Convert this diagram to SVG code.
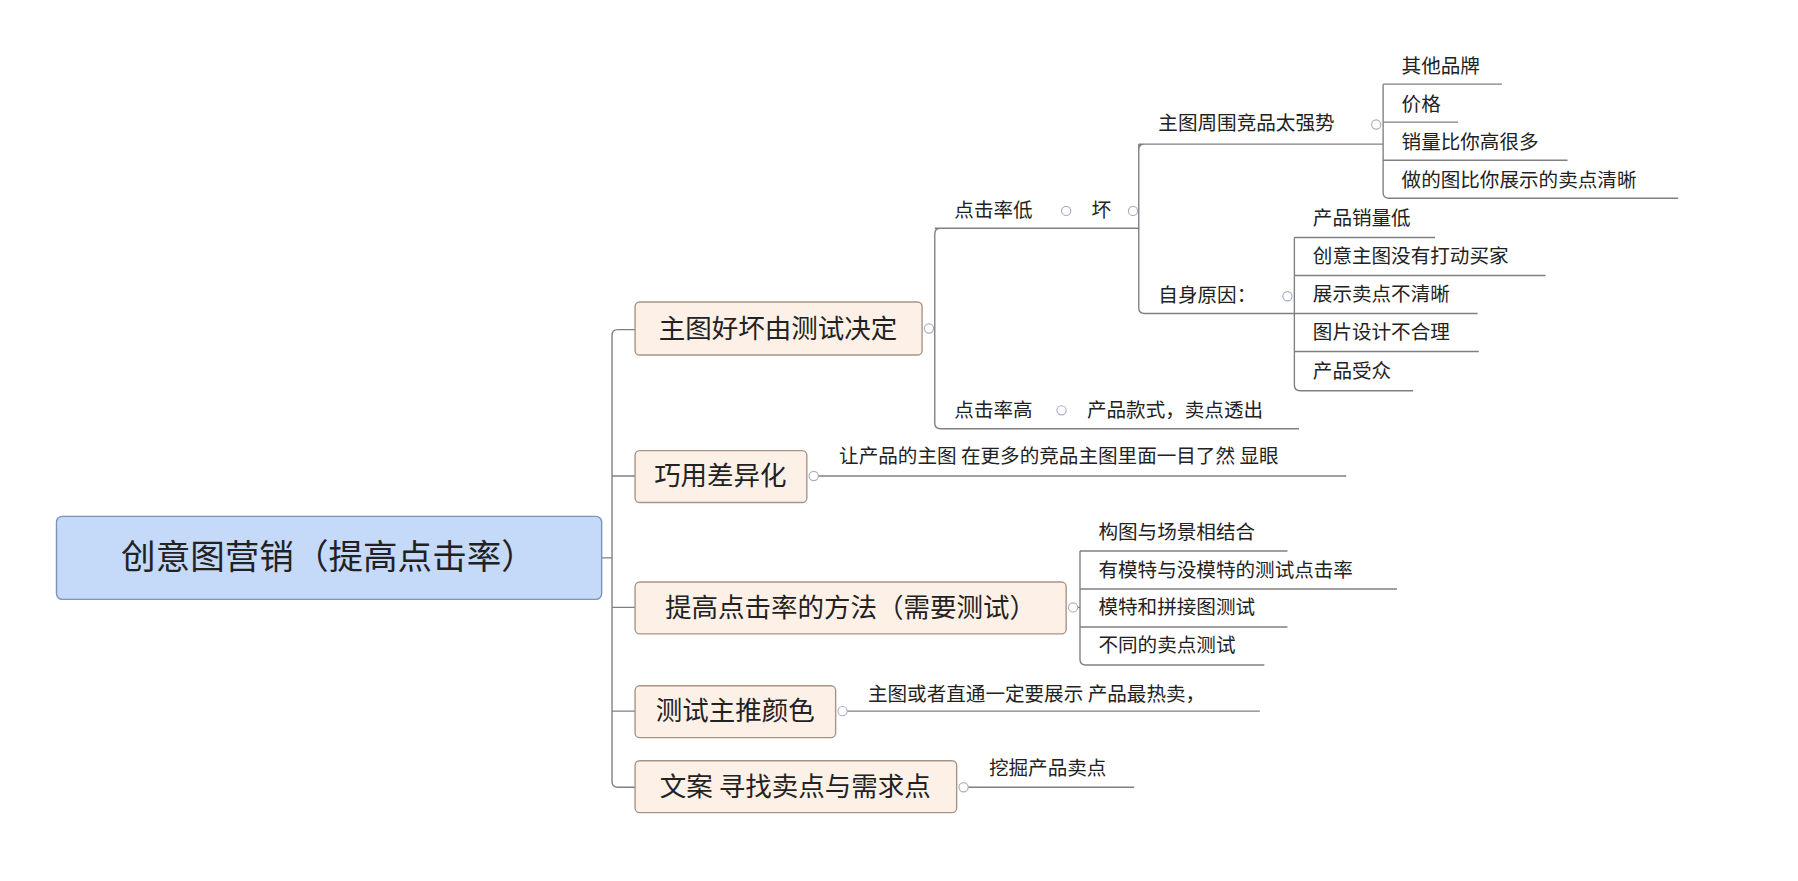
<svg xmlns="http://www.w3.org/2000/svg" width="1798" height="881" viewBox="0 0 1798 881">
<style>
.t{font-family:"Noto Sans CJK SC","Liberation Sans",sans-serif;fill:#222}
.s{font-size:17px}
.b{font-size:23px}
.ln{fill:none;stroke:#808080;stroke-width:1.2}
.bx{fill:#fdf1e7;stroke:#a89484;stroke-width:1.2}
.c{fill:#fff;stroke:#a8aec8;stroke-width:1}
</style>
<rect width="1798" height="881" fill="#fff"/>
<g transform="scale(1.1526)">
<g id="connectors">
<path class="ln" d="M522,484H531M551,286H536Q531,286 531,291V678Q531,683 536,683H551M531,413H551M531,527H551M531,617H551"/>
<path class="ln" d="M810,285H811M828,198H816Q811,198 811,203V367Q811,372 816,372H1127M811,198H988"/>
<path class="ln" d="M988,125V267Q988,272 993,272H1123M988,125H1200M988,130Q988,125 993,125"/>
<path class="ln" d="M1200,73V167Q1200,172 1205,172H1456M1200,73H1303M1200,106H1265M1200,139H1360"/>
<path class="ln" d="M1123,206V334Q1123,339 1128,339H1226M1123,206H1245M1123,239H1341M1123,272H1282M1123,305H1283"/>
<path class="ln" d="M706,413H1168"/>
<path class="ln" d="M931,527H937M937,478V572Q937,577 942,577H1097M937,478H1117M937,511H1212M937,544H1117"/>
<path class="ln" d="M731,617H1093M836,683H984"/>
</g>
<g id="root"><rect x="49" y="448" width="473" height="72" rx="5" fill="#c5d9f9" stroke="#7f93b5" stroke-width="1.2"/><text class="t" x="285" y="494" font-size="30" text-anchor="middle">创意图营销（提高点击率）</text></g>
<g id="n1"><rect class="bx" x="551" y="262" width="249" height="46" rx="4"/><text class="t b" x="675" y="293" text-anchor="middle">主图好坏由测试决定</text><circle class="c" cx="806" cy="285" r="4"/></g>
<g id="n2"><rect class="bx" x="551" y="391" width="149" height="45" rx="4"/><text class="t b" x="625" y="421" text-anchor="middle">巧用差异化</text><circle class="c" cx="706" cy="413" r="4"/></g>
<g id="n3"><rect class="bx" x="551" y="505" width="374" height="45" rx="4"/><text class="t b" x="738" y="535" text-anchor="middle">提高点击率的方法（需要测试）</text><circle class="c" cx="931" cy="527" r="4"/></g>
<g id="n4"><rect class="bx" x="551" y="595" width="174" height="45" rx="4"/><text class="t b" x="638" y="625" text-anchor="middle">测试主推颜色</text><circle class="c" cx="731" cy="617" r="4"/></g>
<g id="n5"><rect class="bx" x="551" y="660" width="279" height="45" rx="4"/><text class="t b" x="690" y="691" text-anchor="middle">文案 寻找卖点与需求点</text><circle class="c" cx="836" cy="683" r="4"/></g>
<g id="s1"><text class="t s" x="828" y="188">点击率低</text><circle class="c" cx="925" cy="183" r="4"/></g>
<g id="s2"><text class="t s" x="947" y="188">坏</text><circle class="c" cx="983" cy="183" r="4"/></g>
<g id="s3"><text class="t s" x="1005" y="113">主图周围竞品太强势</text><circle class="c" cx="1194" cy="108" r="4"/></g>
<g id="s4"><text class="t s" x="1216" y="63">其他品牌</text></g>
<g id="s5"><text class="t s" x="1216" y="96">价格</text></g>
<g id="s6"><text class="t s" x="1216" y="129">销量比你高很多</text></g>
<g id="s7"><text class="t s" x="1216" y="162">做的图比你展示的卖点清晰</text></g>
<g id="s8"><text class="t s" x="1005" y="262">自身原因：</text><circle class="c" cx="1117" cy="257" r="4"/></g>
<g id="s9"><text class="t s" x="1139" y="195">产品销量低</text></g>
<g id="s10"><text class="t s" x="1139" y="228">创意主图没有打动买家</text></g>
<g id="s11"><text class="t s" x="1139" y="261">展示卖点不清晰</text></g>
<g id="s12"><text class="t s" x="1139" y="294">图片设计不合理</text></g>
<g id="s13"><text class="t s" x="1139" y="328">产品受众</text></g>
<g id="s14"><text class="t s" x="828" y="362">点击率高</text><circle class="c" cx="921" cy="356" r="4"/></g>
<g id="s15"><text class="t s" x="943" y="362">产品款式，卖点透出</text></g>
<g id="s16"><text class="t s" x="728" y="402">让产品的主图 在更多的竞品主图里面一目了然 显眼</text></g>
<g id="s17"><text class="t s" x="953" y="468">构图与场景相结合</text></g>
<g id="s18"><text class="t s" x="953" y="501">有模特与没模特的测试点击率</text></g>
<g id="s19"><text class="t s" x="953" y="533">模特和拼接图测试</text></g>
<g id="s20"><text class="t s" x="953" y="566">不同的卖点测试</text></g>
<g id="s21"><text class="t s" x="753" y="608">主图或者直通一定要展示 产品最热卖，</text></g>
<g id="s22"><text class="t s" x="858" y="672">挖掘产品卖点</text></g>
</g>
</svg>
